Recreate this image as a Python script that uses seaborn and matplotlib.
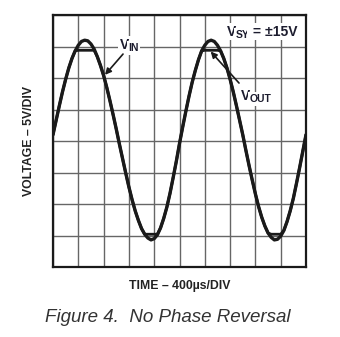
import numpy as np
import pandas as pd
import matplotlib
matplotlib.use("Agg")
import matplotlib.pyplot as plt
import seaborn as sns

# ---- data (time in microseconds, voltage in volts) ----
time_us = [i * 50 for i in range(81)]
v_in = [1.0, 3.3, 5.6, 7.8, 9.8, 11.6, 13.1, 14.3, 15.2, 15.8,
        16.0, 15.9, 15.4, 14.6, 13.4, 12.0, 10.4, 8.5, 6.4, 4.2,
        1.9, -0.5, -2.8, -5.1, -7.3, -9.3, -11.1, -12.6, -13.9, -14.8,
        -15.4, -15.7, -15.5, -14.9, -13.8, -12.3, -10.5, -8.3, -5.8, -3.2,
        -0.4, 2.2, 4.7, 7.1, 9.3, 11.2, 12.9, 14.3, 15.2, 15.8,
        16.0, 15.8, 15.2, 14.3, 13.1, 11.6, 9.8, 7.8, 5.6, 3.3,
        1.0, -1.5, -3.9, -6.2, -8.4, -10.4, -12.1, -13.5, -14.6, -15.3,
        -15.7, -15.6, -15.1, -14.2, -12.8, -11.1, -9.1, -6.7, -4.2, -1.6,
        1.0]
v_out = [1.0, 3.3, 5.6, 7.8, 9.8, 11.6, 13.1, 14.3, 14.4, 14.4,
         14.4, 14.4, 14.4, 14.4, 13.4, 12.0, 10.4, 8.5, 6.4, 4.2,
         1.9, -0.5, -2.8, -5.1, -7.3, -9.3, -11.1, -12.6, -13.9, -14.8,
         -14.8, -14.8, -14.8, -14.8, -13.8, -12.3, -10.5, -8.3, -5.8, -3.2,
         -0.4, 2.2, 4.7, 7.1, 9.3, 11.2, 12.9, 14.3, 14.4, 14.4,
         14.4, 14.4, 14.4, 14.3, 13.1, 11.6, 9.8, 7.8, 5.6, 3.3,
         1.0, -1.5, -3.9, -6.2, -8.4, -10.4, -12.1, -13.5, -14.6, -14.8,
         -14.8, -14.8, -14.8, -14.2, -12.8, -11.1, -9.1, -6.7, -4.2, -1.6,
         1.0]

x_ticks = [i * 400 for i in range(11)]
y_ticks = [-20, -15, -10, -5, 0, 5, 10, 15, 20]

x_label = "TIME – 400µs/DIV"
y_label = "VOLTAGE – 5V/DIV"
caption = "Figure 4.  No Phase Reversal"

# ---- style ----
sns.set_style("white")
plt.rcParams["font.family"] = ["Liberation Sans", "DejaVu Sans"]

fig = plt.figure(figsize=(3.4, 3.37), dpi=100)
ax = fig.add_axes([53 / 340, 1 - 267 / 337, 253 / 340, 252 / 337])

df = pd.DataFrame({"t": time_us, "vin": v_in, "vout": v_out})
sns.lineplot(data=df, x="t", y="vin", ax=ax, color="#1a1a1a", lw=2.4,
             sort=False, estimator=None, zorder=3)
sns.lineplot(data=df, x="t", y="vout", ax=ax, color="#1a1a1a", lw=2.0,
             sort=False, estimator=None, zorder=3)

ax.set_xlim(0, 4000)
ax.set_ylim(-20, 20)
ax.set_xticks(x_ticks)
ax.set_yticks(y_ticks)
ax.tick_params(length=0, labelbottom=False, labelleft=False)
ax.grid(True, color="#666666", lw=1.0)
ax.set_axisbelow(True)
for s in ax.spines.values():
    s.set_color("#1a1a1a")
    s.set_linewidth(1.6)

ax.set_xlabel(x_label, fontsize=8.8, fontweight="bold", color="#222222", labelpad=9)
ax.set_ylabel(y_label, fontsize=8.8, fontweight="bold", color="#222222", labelpad=13)

txtcol = "#1c1c2e"
box = dict(facecolor="white", edgecolor="none", pad=1.2)


def sub_label(x, y, main, sub, rest=""):
    t1 = ax.text(x, y, main, fontsize=10, fontweight="bold", color=txtcol,
                 ha="left", va="baseline", bbox=box, zorder=5)
    fig.canvas.draw()
    w1 = t1.get_window_extent().width
    t2 = ax.annotate(sub, xy=(x, y), xycoords="data", xytext=(w1 - 1.0, -2),
                     textcoords="offset pixels", fontsize=7.5, fontweight="bold",
                     color=txtcol, ha="left", va="baseline", bbox=box, zorder=5)
    if rest:
        fig.canvas.draw()
        w2 = t2.get_window_extent().width
        ax.annotate(rest, xy=(x, y), xycoords="data", xytext=(w1 + w2 - 1.5, 0),
                    textcoords="offset pixels", fontsize=10, fontweight="bold",
                    color=txtcol, ha="left", va="baseline", bbox=box, zorder=5)


sub_label(1059, 14.6, "V", "IN")
sub_label(2751, 16.7, "V", "SY", " = ±15V")
sub_label(2972, 6.5, "V", "OUT")

arrow = dict(arrowstyle="-|>", lw=1.2, color="#1a1a1a", mutation_scale=9,
             shrinkA=0, shrinkB=0)
ax.annotate("", xy=(822, 10.5), xytext=(1107, 13.8), arrowprops=arrow, zorder=6)
ax.annotate("", xy=(2493, 14.2), xytext=(2941, 9.2), arrowprops=arrow, zorder=6)

fig.text(167.5 / 340, 1 - 318 / 337, caption, fontsize=13.5, style="italic",
         color="#333333", ha="center", va="center")

fig.savefig("out.png", dpi=100)
